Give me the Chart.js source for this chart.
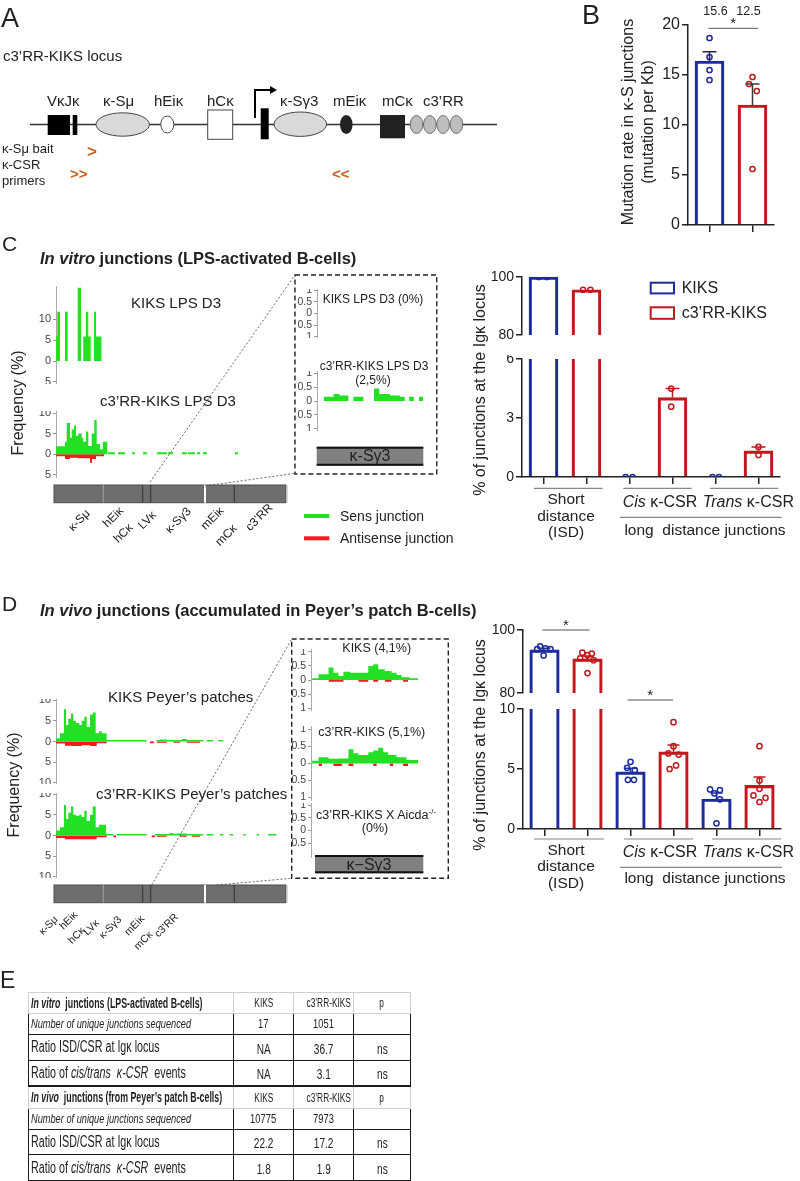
<!DOCTYPE html>
<html>
<head>
<meta charset="utf-8">
<script src="https://cdn.jsdelivr.net/npm/chart.js@4.4.1/dist/chart.umd.min.js"></script>
<style>
html,body{margin:0;padding:0;background:#fff;}
#page{position:relative;width:800px;height:1181px;overflow:hidden;font-family:"Liberation Sans",Arial,Helvetica,sans-serif;color:#222;}
.abs{position:absolute;white-space:nowrap;line-height:1;}
#page canvas{position:absolute;}
#ov{position:absolute;left:0;top:0;pointer-events:none;}
#tbl{position:absolute;left:28px;top:992px;border-collapse:collapse;table-layout:fixed;width:382px;}
#tbl td{padding:0;overflow:hidden;white-space:nowrap;vertical-align:middle;line-height:1;}
#tbl tr.h td{border:1px solid #d0d0d0;}
#tbl tr.r td{border:1.5px solid #1a1a1a;}
#tbl tr.last td{border-bottom:2.5px solid #1a1a1a;}
.sx{display:inline-block;transform-origin:0 50%;}
#tbl td.c{text-align:center;}
#tbl td.c .sx{transform-origin:50% 50%;}
</style>
</head>
<body>
<div id="page"></div>
<script>
// ===================== DATA =====================
// Panel B : mutation rate in kappa-S junctions (mutation per Kb)
const bGenotypes = ['KIKS', "c3'RR-KIKS"];
const bMeans = [16.4, 12.0];
const bSems = [0.93, 2.1];
const bKiksMice = [18.7, 16.8, 15.5, 14.5];
const bC3Mice = [14.8, 14.1, 13.4, 5.6];
const bTopValues = ['15.6', '12.5'];
const bTicks = [0, 5, 10, 15, 20];

// Panels C / D right : % of junctions at the Igk locus
const junctionBars = ['ISD KIKS', "ISD c3'RR-KIKS", 'Cis KIKS', "Cis c3'RR-KIKS", 'Trans KIKS', "Trans c3'RR-KIKS"];
const vitroMeans = [100, 95.6, 0, 4.04, 0, 1.33];
const vitroSems = [0, 0, 0, 0.46, 0, 0.2];
const vitroMice = [[100, 100], [95.6, 95.6], [0, 0], [4.5, 3.58], [0, 0], [1.53, 1.12]];
const vivoMeans = [93.7, 90.8, 4.76, 6.43, 2.5, 3.64];
const vivoSems = [0.5, 0.9, 0.3, 0.56, 0.5, 0.7];
const vivoMice = [[94.8, 94.2, 93.9, 91.9, 93.9], [92.8, 92.5, 92.0, 91.0, 90.4, 86.3], [5.6, 5.1, 4.9, 4.1, 4.1], [8.9, 6.9, 6.3, 6.2, 5.3, 5.0], [3.3, 3.25, 2.97, 2.47, 0.47], [6.9, 4.05, 3.35, 2.8, 2.6, 2.25]];
const upperTicks = [80, 100];
const vitroLowerTicks = [0, 3, 6];
const vivoLowerTicks = [0, 5, 10];

// Junction frequency (%) along the locus : [start, end, frequency]
const vitroKiksSens = [[2,3.3,5.9],[3.3,6,11.8],[11,13.7,11.8],[23.7,27,17.6],[29.3,32,5.9],[32,34.3,11.8],[34.3,36.7,5.9],[40,42,11.8],[42,47.7,5.9]];
const vitroKiksAnti = [];
const vitroC3Sens = [[2,11,1.9],[11,12.7,3],[12.7,16,7.6],[16,17.7,4],[17.7,20,6],[20,22,7],[22,24.3,4.5],[24.3,27.7,5],[27.7,29.3,4],[29.3,32,3],[32,34.3,5.5],[34.3,37.7,2],[37.7,40.3,5],[40.3,42.7,8.3],[42.7,46,2.5],[46,48.7,1.2],[48.7,53.3,3],
  [54,61,0.45],[64,71,0.45],[78,81,0.45],[89,93,0.45],[103,113,0.45],[114,119,0.45],[128,133,0.45],[134,141,0.45],[143,146,0.45],[149,153,0.45],[181,184,0.45]];
const vitroC3Anti = [[2,11,-0.5],[11,16,-1.2],[16,24,-0.9],[24,36,-1.0],[36,38,-2.1],[38,42,-1.2],[42,50,-0.5]];
const vivoKiksSens = [[1,6,0.8],[6,10,2],[10,12,7.8],[12,14.3,4],[14.3,17,5.5],[17,19.3,6.8],[19.3,22,5],[22,25.3,4.5],[25.3,27.7,4],[27.7,30.3,5],[30.3,32.7,6],[32.7,36,3.5],[36,38.7,6.5],[38.7,41.7,7],[41.7,45,2],[45,47.7,2.5],[47.7,52.7,2],
  [52.7,92.7,0.35],[102.7,106,0.35],[106,112.7,0.5],[112.7,127.7,0.35],[127.7,132.7,0.6],[132.7,149.3,0.35],[152.7,159.3,0.35],[164.3,169.3,0.35]];
const vivoKiksAnti = [[1,11,-0.5],[11,17.7,-1.0],[17.7,27.7,-1.1],[27.7,36,-0.9],[36,42.7,-1.1],[42.7,52.7,-0.4],[96,100,-0.4],[102.7,112.7,-0.3],[119.3,126,-0.3],[132.7,146,-0.3]];
const vivoC3Sens = [[1,6,1.2],[6,10,2],[10,12,7.4],[12,14.3,4],[14.3,17,5.5],[17,19.3,7],[19.3,22,5],[22,25.3,4.8],[25.3,27.7,5],[27.7,30.3,4.5],[30.3,32.7,6],[32.7,36,3.5],[36,38.7,5],[38.7,41.7,7],[41.7,45,2],[45,47.7,2.6],[47.7,52,2.6],
  [52,59.3,0.35],[62.7,92.7,0.35],[101,116,0.35],[116,119.3,0.6],[119.3,122.7,0.35],[122.7,132.7,0.5],[132.7,149.3,0.35],[152.7,159.3,0.35],[166,169.3,0.35],[176,179.3,0.35],[189.3,191.7,0.35],[202.7,205,0.35],[214.3,222.7,0.35]];
const vivoC3Anti = [[1,11,-0.6],[11,42.7,-0.9],[42.7,52.7,-0.4],[59.3,62,-0.4],[97.7,101,-0.4],[102.7,112.7,-0.3],[126,132.7,-0.3],[137.7,146,-0.3]];

// k-Sg3 detail (0-100 = k-Sg3 region)
const boxVitroKiksSens = [];
const boxVitroC3Sens = [[6.2,15.6,0.15],[15.6,21.2,0.25],[21.2,29.6,0.2],[34.3,43.7,0.15],[53.8,58.7,0.45],[58.7,68.8,0.25],[68.8,78.1,0.2],[78.1,82.8,0.15],[86.9,91.3,0.15],[96.2,100,0.15]];
const boxVivoKiksSens = [[-3,3,0.06],[3,12.3,0.2],[12.3,16.9,0.44],[16.9,21.5,0.26],[21.5,26.1,0.14],[26.1,32.3,0.29],[32.3,49.2,0.26],[49.2,53.8,0.5],[53.8,58.4,0.56],[58.4,64.6,0.38],[64.6,70.8,0.32],[70.8,75.4,0.26],[75.4,80,0.18],[80,87.7,0.1],[87.7,95.4,0.06]];
const boxVivoKiksAnti = [[12.3,26.1,-0.06],[40,49.2,-0.06],[53.8,58.4,-0.06],[64.6,70.8,-0.06],[81.5,86.2,-0.06]];
const boxVivoC3Sens = [[-3,3,0.08],[3,12.3,0.18],[12.3,21.5,0.14],[21.5,30.8,0.15],[30.8,35.4,0.42],[35.4,40,0.3],[40,49.2,0.25],[49.2,53.8,0.33],[53.8,58.4,0.38],[58.4,63,0.46],[63,67.7,0.33],[67.7,75.4,0.25],[75.4,84.6,0.18],[84.6,95.4,0.1]];
const boxVivoC3Anti = [[3,6.2,-0.07],[16.9,24.6,-0.07],[30.8,35.4,-0.07],[53.8,56.9,-0.07],[69.2,72.3,-0.07],[81.5,86.2,-0.07]];
const boxVivoAicdaSens = [];
const histTicksVitro = [-5, 0, 5, 10];
const histTicksVivo = [-10, -5, 0, 5, 10];
const boxTicks = [-1, -0.5, 0, 0.5, 1];
const boxTicksAicda = [-0.5, 0, 0.5, 1];

const trackLabels = ['κ-Sμ', 'hEiκ', 'hCκ', 'LVκ', 'κ-Sγ3', 'mEiκ', 'mCκ', 'c3’RR'];

// Panel E table
const tblCols = ['KIKS', 'c3’RR-KIKS', 'p'];
const vitroCounts = ['17', '1051', ''];
const vitroIsdCsr = ['NA', '36.7', 'ns'];
const vitroCisTrans = ['NA', '3.1', 'ns'];
const vivoCounts = ['10775', '7973', ''];
const vivoIsdCsr = ['22.2', '17.2', 'ns'];
const vivoCisTrans = ['1.8', '1.9', 'ns'];

// ===================== STYLE / LAYOUT =====================
const GREEN = '#24e024', RED = '#ee1c1c', BLUE = '#1d2c9c', DRED = '#c1181e', ORANGE = '#c8601a';
const pairCols = [BLUE, DRED, BLUE, DRED, BLUE, DRED];
const vitroJit = [[-0.11, 0.08], [-0.08, 0.09], [-0.09, 0.07], [-0.03, -0.03], [-0.07, 0.08], [0, 0]];
const vivoJit = [[-0.1, 0.02, 0.14, -0.02, -0.17], [-0.12, 0.1, 0, -0.17, 0.14, 0], [0, -0.08, 0.1, -0.06, 0.08], [0, 0, -0.12, 0.12, 0.06, -0.09], [-0.15, 0.08, -0.05, 0.08, 0], [0, 0, 0, -0.14, 0.14, 0]];
const bJit = [[0, 0, 0, 0], [0, -0.08, 0.1, 0]];

Chart.defaults.font.family = '"Liberation Sans", Arial, sans-serif';
Chart.defaults.color = '#222';
const page = document.getElementById('page');

function fitY(w) { return s => { s.width = w; s.paddingTop = 0; s.paddingBottom = 0; }; }
function fitX(h) { return s => { s.height = h; s.paddingLeft = 0; s.paddingRight = 0; }; }

function makeChart(area, lay, config) {
  const pt = lay.pt || 0, pr = lay.pr || 0, pb = lay.pb || 0, xH = lay.xH || 0;
  const left = Math.round(area.x0 - lay.yW), top = Math.round(area.y0 - pt);
  const w = Math.round(area.x1 - left + pr), h = Math.round(area.y1 - area.y0 + pt + pb + xH);
  const c = document.createElement('canvas');
  c.width = w; c.height = h;
  c.style.left = left + 'px'; c.style.top = top + 'px';
  c.style.width = w + 'px'; c.style.height = h + 'px';
  page.appendChild(c);
  config.options.layout = { padding: { top: pt, right: pr, bottom: pb, left: 0 } };
  config.options.responsive = false;
  config.options.animation = false;
  config.options.devicePixelRatio = 1;
  config.options.events = [];
  return new Chart(c.getContext('2d'), config);
}

const decoPlugin = {
  id: 'deco',
  afterDatasetsDraw(chart, args, o) {
    const ctx = chart.ctx, xs = chart.scales.xp, ys = chart.scales.y, a = chart.chartArea;
    if (o.means) {
      ctx.save();
      ctx.beginPath(); ctx.rect(a.left, a.top - 4, a.right - a.left, a.bottom - a.top + 4); ctx.clip();
      o.means.forEach((m, i) => {
        const s = o.sems[i]; if (!s) return;
        const x = xs.getPixelForValue(i), y0 = ys.getPixelForValue(m), y1 = ys.getPixelForValue(m + s);
        ctx.strokeStyle = o.errColors[i]; ctx.lineWidth = o.errWidth || 1.5;
        ctx.beginPath(); ctx.moveTo(x, y0); ctx.lineTo(x, y1);
        ctx.moveTo(x - o.cap, y1); ctx.lineTo(x + o.cap, y1); ctx.stroke();
      });
      ctx.restore();
    }
    (o.sig || []).forEach(s => {
      const xa = xs.getPixelForValue(s.x0), xb = xs.getPixelForValue(s.x1), y = ys.getPixelForValue(s.y);
      ctx.save();
      ctx.strokeStyle = '#555'; ctx.lineWidth = 1;
      ctx.beginPath(); ctx.moveTo(xa, y); ctx.lineTo(xb, y); ctx.stroke();
      ctx.fillStyle = '#222'; ctx.font = '15px "Liberation Sans", Arial';
      ctx.textAlign = 'center'; ctx.textBaseline = 'middle';
      ctx.fillText('*', (xa + xb) / 2, y - 4);
      ctx.restore();
    });
  }
};

function barPanel(area, lay, o) {
  const datasets = [{
    type: 'bar', data: o.means, xAxisID: 'x', yAxisID: 'y',
    backgroundColor: 'rgba(0,0,0,0)', borderColor: o.colors, borderWidth: 2.5,
    borderSkipped: 'start', grouped: false, barThickness: o.barW, clip: o.clip, order: 2
  }];
  o.mice.forEach((vals, i) => {
    const pts = vals.map((v, k) => ({ x: i + o.jit[i][k], y: v })).filter(p => p.y >= o.min - 0.3 && p.y <= o.max + 0.3);
    datasets.push({
      type: 'scatter', xAxisID: 'xp', yAxisID: 'y', data: pts, order: 1,
      pointRadius: o.ptR || 2.6, pointBorderWidth: 1.5, pointBorderColor: o.colors[i],
      pointBackgroundColor: 'rgba(255,255,255,0)', pointHoverRadius: 0
    });
  });
  const xH = lay.xH || 0;
  return makeChart(area, lay, {
    type: 'bar',
    data: { labels: o.labels, datasets },
    options: {
      scales: {
        x: {
          type: 'category', display: xH > 0, offset: true,
          ticks: { display: false },
          grid: { display: true, drawOnChartArea: false, drawTicks: true, tickLength: xH - 1, offset: false, color: '#222', lineWidth: 1.5 },
          border: { display: true, color: '#222', width: 1.5 },
          afterFit: fitX(xH)
        },
        xp: { type: 'linear', axis: 'x', position: 'bottom', offset: false, grace: 0, bounds: 'data', min: -0.5, max: o.labels.length - 0.5, display: false, grid: { offset: false } },
        y: {
          type: 'linear', min: o.min, max: o.max,
          afterBuildTicks: s => { s.ticks = o.ticks.map(v => ({ value: v })); },
          ticks: { font: { size: o.tickSize || 14 }, color: '#222', padding: 2, autoSkip: false },
          grid: { drawOnChartArea: false, tickLength: 6, color: '#222', lineWidth: 1.5 },
          border: { display: true, color: '#222', width: 1.5 },
          afterFit: fitY(lay.yW)
        }
      },
      plugins: {
        legend: { display: false }, tooltip: { enabled: false },
        deco: { means: o.means, sems: o.sems, errColors: o.errColors || o.colors, cap: o.cap || 7, sig: o.sig || [] }
      }
    },
    plugins: [decoPlugin]
  });
}

function segPts(segs) {
  const pts = [];
  segs.forEach((s, i) => {
    const [a, b, v] = s, prev = segs[i - 1], next = segs[i + 1];
    if (!prev || prev[1] !== a) pts.push({ x: a, y: 0 });
    pts.push({ x: a, y: v }, { x: b, y: v });
    if (!next || next[0] !== b) pts.push({ x: b, y: 0 });
  });
  return pts;
}

function histPanel(area, yW, xMin, xMax, yMin, yMax, ticks, sens, anti, tickSize) {
  const ds = (segs, col) => ({ data: segPts(segs), fill: 'origin', backgroundColor: col, borderColor: 'rgba(0,0,0,0)', borderWidth: 0, pointRadius: 0, tension: 0 });
  return makeChart(area, { yW }, {
    type: 'line',
    data: { datasets: [ds(sens, GREEN), ds(anti, RED)] },
    options: {
      scales: {
        x: { type: 'linear', min: xMin, max: xMax, display: false, offset: false },
        y: {
          type: 'linear', min: yMin, max: yMax,
          afterBuildTicks: s => { s.ticks = ticks.map(v => ({ value: v })); },
          ticks: { callback: v => String(Math.abs(v)), font: { size: tickSize || 11 }, color: '#444', padding: 2, autoSkip: false },
          grid: { drawOnChartArea: false, tickLength: 3, color: '#999', lineWidth: 1 },
          border: { display: true, color: '#aaa', width: 1 },
          afterFit: fitY(yW)
        }
      },
      plugins: { legend: { display: false }, tooltip: { enabled: false } }
    }
  });
}

// ---------- Panel B ----------
barPanel({ x0: 688, x1: 774, y0: 25, y1: 225 }, { yW: 40, xH: 8, pt: 8, pr: 6 }, {
  labels: bGenotypes, means: bMeans, sems: bSems, mice: [bKiksMice, bC3Mice], jit: bJit,
  colors: [BLUE, DRED], errColors: ['#23235e', '#3a3a3a'], barW: 29, min: 0, max: 20, ticks: bTicks,
  tickSize: 16, clip: 0, cap: 7, sig: [{ x0: -0.03, x1: 1.13, y: 19.67 }]
});

// ---------- Panel C right ----------
barPanel({ x0: 522.3, x1: 779.7, y0: 277.3, y1: 339.3 }, { yW: 45, pt: 6, pr: 6 }, {
  labels: junctionBars, means: vitroMeans, sems: vitroSems, mice: vitroMice, jit: vitroJit,
  colors: pairCols, barW: 29, min: 80, max: 100, ticks: upperTicks,
  clip: { left: 5, right: 5, top: 5, bottom: 0 }, cap: 7
});
barPanel({ x0: 522.3, x1: 779.7, y0: 356.7, y1: 476.7 }, { yW: 45, xH: 8, pr: 6, pt: 2 }, {
  labels: junctionBars, means: vitroMeans, sems: vitroSems, mice: vitroMice, jit: vitroJit,
  colors: pairCols, barW: 29, min: 0, max: 6, ticks: vitroLowerTicks,
  clip: { left: 5, right: 5, top: 0, bottom: 5 }, cap: 7
});

// ---------- Panel D right ----------
barPanel({ x0: 523.3, x1: 781, y0: 630, y1: 696.7 }, { yW: 45, pt: 16, pr: 6 }, {
  labels: junctionBars, means: vivoMeans, sems: vivoSems, mice: vivoMice, jit: vivoJit,
  colors: pairCols, barW: 29.5, min: 80, max: 100, ticks: upperTicks,
  clip: { left: 5, right: 5, top: 5, bottom: 0 }, cap: 6,
  sig: [{ x0: -0.05, x1: 1.05, y: 100 }]
});
barPanel({ x0: 523.3, x1: 781, y0: 709, y1: 829.3 }, { yW: 45, xH: 8, pr: 6, pt: 22 }, {
  labels: junctionBars, means: vivoMeans, sems: vivoSems, mice: vivoMice, jit: vivoJit,
  colors: pairCols, barW: 29.5, min: 0, max: 10, ticks: vivoLowerTicks,
  clip: { left: 5, right: 5, top: 0, bottom: 5 }, cap: 6,
  sig: [{ x0: 1.93, x1: 2.99, y: 10.75 }]
});

// ---------- Histograms ----------
histPanel({ x0: 56, x1: 286, y0: 285.6, y1: 383.6 }, 40, 2, 232, -5.5, 18, histTicksVitro, vitroKiksSens, vitroKiksAnti);
histPanel({ x0: 56, x1: 286, y0: 411.3, y1: 478.1 }, 40, 2, 232, -5.8, 10.5, histTicksVitro, vitroC3Sens, vitroC3Anti);
histPanel({ x0: 56, x1: 286, y0: 698.8, y1: 784.2 }, 40, 2, 232, -10.3, 10.3, histTicksVivo, vivoKiksSens, vivoKiksAnti);
histPanel({ x0: 56, x1: 286, y0: 792.8, y1: 877.8 }, 40, 2, 232, -10.3, 10.3, histTicksVivo, vivoC3Sens, vivoC3Anti);
// k-Sg3 zoom boxes
histPanel({ x0: 316.7, x1: 423.3, y0: 289.0, y1: 338.0 }, 22, 0, 100, -1.05, 1.05, boxTicks, boxVitroKiksSens, [], 10.5);
histPanel({ x0: 316.7, x1: 423.3, y0: 370.8, y1: 431.2 }, 22, 0, 100, -1.08, 1.08, boxTicks, boxVitroC3Sens, [], 10.5);
histPanel({ x0: 310.7, x1: 423.3, y0: 649.2, y1: 710.8 }, 22, -4, 100, -1.1, 1.1, boxTicks, boxVivoKiksSens, boxVivoKiksAnti, 10.5);
histPanel({ x0: 310.7, x1: 423.3, y0: 725.6, y1: 800.4 }, 22, -4, 100, -1.1, 1.1, boxTicks, boxVivoC3Sens, boxVivoC3Anti, 10.5);
histPanel({ x0: 310.7, x1: 423.3, y0: 802.5, y1: 857.5 }, 22, -4, 100, -1.1, 1.1, boxTicksAicda, boxVivoAicdaSens, [], 10.5);

// ---------- SVG overlay (diagram shapes, frames, guide lines) ----------
function track(y) {
  return `<rect x="54" y="${y}" width="232" height="17.7" fill="#6e6e6e" stroke="#4d4d4d" stroke-width="1"/>
  <line x1="103.3" y1="${y}" x2="103.3" y2="${y + 17.7}" stroke="#a0a0a0" stroke-width="1"/>
  <line x1="142.7" y1="${y}" x2="142.7" y2="${y + 17.7}" stroke="#333" stroke-width="1"/>
  <line x1="150.7" y1="${y}" x2="150.7" y2="${y + 17.7}" stroke="#333" stroke-width="1"/>
  <line x1="205" y1="${y}" x2="205" y2="${y + 17.7}" stroke="#fff" stroke-width="2"/>
  <line x1="234.3" y1="${y}" x2="234.3" y2="${y + 17.7}" stroke="#333" stroke-width="1"/>
  <line x1="287" y1="${y}" x2="287" y2="${y + 17.7}" stroke="#ccc" stroke-width="1.5"/>`;
}
function sg3bar(x0, x1, y0, y1) {
  return `<rect x="${x0}" y="${y0}" width="${x1 - x0}" height="${y1 - y0}" fill="#808080"/>
  <line x1="${x0}" y1="${y0 + 1}" x2="${x1}" y2="${y0 + 1}" stroke="#111" stroke-width="2"/>
  <line x1="${x0}" y1="${y1 - 1}" x2="${x1}" y2="${y1 - 1}" stroke="#111" stroke-width="2"/>`;
}
const svg = `<svg id="ov" width="800" height="1181" xmlns="http://www.w3.org/2000/svg">
 <line x1="30" y1="124.5" x2="497" y2="124.5" stroke="#333" stroke-width="1.3"/>
 <rect x="47.7" y="115" width="22.3" height="20" fill="#000"/>
 <rect x="72.7" y="115" width="4.6" height="20" fill="#000"/>
 <ellipse cx="122.7" cy="124.5" rx="26.7" ry="11.7" fill="#d9d9d9" stroke="#444" stroke-width="1"/>
 <ellipse cx="167.3" cy="124.5" rx="6.5" ry="8.5" fill="#fff" stroke="#444" stroke-width="1"/>
 <rect x="207.7" y="110" width="25" height="29.3" fill="#fff" stroke="#444" stroke-width="1"/>
 <path d="M255 118 V90 H271" fill="none" stroke="#000" stroke-width="2"/>
 <path d="M270 86 L277 90 L270 94 Z" fill="#000"/>
 <rect x="260.7" y="108.3" width="8" height="31" fill="#000"/>
 <ellipse cx="300.3" cy="124.2" rx="26.3" ry="12.2" fill="#d9d9d9" stroke="#444" stroke-width="1"/>
 <ellipse cx="346.3" cy="124.5" rx="6.3" ry="9.5" fill="#222"/>
 <rect x="380" y="115" width="25" height="23.3" fill="#222"/>
 <ellipse cx="416.5" cy="124.5" rx="6.3" ry="9" fill="#bdbdbd" stroke="#555" stroke-width="0.8"/>
 <ellipse cx="429.8" cy="124.5" rx="6.3" ry="9" fill="#bdbdbd" stroke="#555" stroke-width="0.8"/>
 <ellipse cx="443.1" cy="124.5" rx="6.3" ry="9" fill="#bdbdbd" stroke="#555" stroke-width="0.8"/>
 <ellipse cx="456.4" cy="124.5" rx="6.3" ry="9" fill="#bdbdbd" stroke="#555" stroke-width="0.8"/>

 ${track(485)}
 ${track(885)}
 <rect x="295" y="275" width="141.7" height="199" fill="none" stroke="#222" stroke-width="1.4" stroke-dasharray="5 3"/>
 <rect x="291.7" y="639" width="156.6" height="239.3" fill="none" stroke="#222" stroke-width="1.4" stroke-dasharray="5 3"/>
 ${sg3bar(316.7, 423.3, 446.7, 465.7)}
 ${sg3bar(315, 423.3, 855, 873.3)}
 <line x1="150" y1="482" x2="295" y2="275" stroke="#555" stroke-width="0.9" stroke-dasharray="2 2"/>
 <line x1="205" y1="486" x2="295" y2="473.3" stroke="#555" stroke-width="0.9" stroke-dasharray="2 2"/>
 <line x1="151.7" y1="885" x2="291.7" y2="639" stroke="#555" stroke-width="0.9" stroke-dasharray="2 2"/>
 <line x1="216.7" y1="885" x2="291.7" y2="878.3" stroke="#555" stroke-width="0.9" stroke-dasharray="2 2"/>

 <line x1="304" y1="516" x2="329.3" y2="516" stroke="${GREEN}" stroke-width="4"/>
 <line x1="304" y1="538.3" x2="329.3" y2="538.3" stroke="${RED}" stroke-width="4"/>
 <rect x="650.7" y="282.7" width="23.3" height="10.7" fill="none" stroke="${BLUE}" stroke-width="2"/>
 <rect x="650.7" y="307.3" width="23.3" height="11.5" fill="none" stroke="${DRED}" stroke-width="2"/>

 <line x1="534" y1="488.3" x2="602.7" y2="488.3" stroke="#888" stroke-width="1.2"/>
 <line x1="623.3" y1="488.3" x2="691.7" y2="488.3" stroke="#888" stroke-width="1.2"/>
 <line x1="710" y1="488.3" x2="778.3" y2="488.3" stroke="#888" stroke-width="1.2"/>
 <line x1="620" y1="517.3" x2="781.7" y2="517.3" stroke="#888" stroke-width="1.2"/>
 <line x1="534" y1="839" x2="604" y2="839" stroke="#888" stroke-width="1.2"/>
 <line x1="624" y1="839" x2="693" y2="839" stroke="#888" stroke-width="1.2"/>
 <line x1="712" y1="839" x2="781" y2="839" stroke="#888" stroke-width="1.2"/>
 <line x1="620" y1="867.3" x2="782" y2="867.3" stroke="#888" stroke-width="1.2"/>
</svg>`;
page.insertAdjacentHTML('beforeend', svg);

// ---------- Texts ----------
function T(html, x, y, o = {}) {
  const d = document.createElement('div');
  d.className = 'abs';
  d.innerHTML = html;
  d.style.fontSize = (o.size || 14) + 'px';
  if (o.weight) d.style.fontWeight = o.weight;
  if (o.italic) d.style.fontStyle = 'italic';
  if (o.color) d.style.color = o.color;
  if (o.family) d.style.fontFamily = o.family;
  const tx = o.anchor === 'middle' ? '-50%' : o.anchor === 'end' ? '-100%' : '0';
  d.style.left = x + 'px'; d.style.top = y + 'px';
  d.style.transform = `translate(${tx},-50%)` + (o.rot ? ` rotate(${o.rot}deg)` : '');
  page.appendChild(d);
}
// A
T('A', 1, 18, { size: 27 });
T('c3’RR-KIKS locus', 3, 55, { size: 15 });
[['VκJκ', 47], ['κ-Sμ', 103], ['hEiκ', 154], ['hCκ', 207], ['κ-Sγ3', 280], ['mEiκ', 333], ['mCκ', 382], ['c3’RR', 423]]
  .forEach(([t, x]) => T(t, x, 100, { size: 15 }));
T('κ-Sμ bait', 2, 148, { size: 13 });
T('&gt;', 87, 151, { size: 17, color: ORANGE, weight: 'bold' });
T('κ-CSR', 2, 164, { size: 13 });
T('primers', 2, 180, { size: 13 });
T('&gt;&gt;', 70, 173, { size: 15, color: ORANGE, weight: 'bold' });
T('&lt;&lt;', 332, 173, { size: 15, color: ORANGE, weight: 'bold' });
// B
T('B', 582, 15, { size: 27 });
T(bTopValues[0], 715.5, 11, { size: 12.5, anchor: 'middle' });
T(bTopValues[1], 748.5, 11, { size: 12.5, anchor: 'middle' });
T('Mutation rate in κ-S junctions', 628, 122, { size: 16, anchor: 'middle', rot: -90 });
T('(mutation per Kb)', 648, 122, { size: 16, anchor: 'middle', rot: -90 });
// C
T('C', 2, 243, { size: 21 });
T('<i>In vitro</i> junctions (LPS-activated B-cells)', 40, 258, { size: 16.5, weight: 'bold' });
T('KIKS LPS D3', 176, 302, { size: 15, anchor: 'middle' });
T('c3’RR-KIKS LPS D3', 168, 400, { size: 15, anchor: 'middle' });
T('Frequency (%)', 18, 403, { size: 16, anchor: 'middle', rot: -90 });
T('KIKS LPS D3 (0%)', 373, 299, { size: 12, anchor: 'middle' });
T('c3’RR-KIKS LPS D3', 374, 366, { size: 12, anchor: 'middle' });
T('(2,5%)', 373, 380, { size: 12, anchor: 'middle' });
T('κ-Sγ3', 370, 456, { size: 16, anchor: 'middle' });
const cTrackPos = [[79, 520], [113.3, 516.7], [122.5, 533], [146.7, 520], [178, 520], [211.7, 518], [225.8, 535], [259, 516.7]];
trackLabels.forEach((t, i) => T(t, cTrackPos[i][0], cTrackPos[i][1], { size: 12, anchor: 'middle', rot: -45 }));
T('Sens junction', 340, 516, { size: 14 });
T('Antisense junction', 340, 538, { size: 14 });
T('% of junctions at the Igκ locus', 480, 390, { size: 16, anchor: 'middle', rot: -90 });
T('KIKS', 681.7, 288.3, { size: 16 });
T('c3’RR-KIKS', 681.7, 313.3, { size: 16 });
function xLabels(y0, yLong) {
  T('Short', 566, y0, { size: 15.5, anchor: 'middle' });
  T('distance', 566, y0 + 16.3, { size: 15.5, anchor: 'middle' });
  T('(ISD)', 566, y0 + 32.5, { size: 15.5, anchor: 'middle' });
  T('<i>Cis</i> κ-CSR', 660, y0 + 2.4, { size: 16, anchor: 'middle' });
  T('<i>Trans</i> κ-CSR', 748.3, y0 + 2.4, { size: 16, anchor: 'middle' });
  T('long&nbsp; distance junctions', 705, yLong, { size: 15.5, anchor: 'middle' });
}
xLabels(499.3, 529.5);
// D
T('D', 2, 603, { size: 21 });
T('<i>In vivo</i> junctions (accumulated in Peyer’s patch B-cells)', 40, 610, { size: 16.5, weight: 'bold' });
T('KIKS Peyer’s patches', 180.7, 696, { size: 15, anchor: 'middle' });
T('c3’RR-KIKS Peyer’s patches', 191.7, 793.3, { size: 15, anchor: 'middle' });
T('Frequency (%)', 14, 785, { size: 16, anchor: 'middle', rot: -90 });
T('KIKS (4,1%)', 376.7, 648.3, { size: 12.5, anchor: 'middle' });
T('c3’RR-KIKS (5,1%)', 371.7, 731.7, { size: 12.5, anchor: 'middle' });
T('c3’RR-KIKS X Aicda<sup style="font-size:8px">-/-</sup>', 376, 815, { size: 12.5, anchor: 'middle' });
T('(0%)', 375, 828.3, { size: 12.5, anchor: 'middle' });
T('κ−Sγ3', 369, 864.5, { size: 16, anchor: 'middle' });
const dTrackPos = [[47.5, 925], [68, 920], [76, 935], [91, 927], [110, 927], [134, 925], [143, 940], [166, 925]];
trackLabels.forEach((t, i) => T(t, dTrackPos[i][0], dTrackPos[i][1], { size: 10.5, anchor: 'middle', rot: -45 }));
T('% of junctions at the Igκ locus', 480, 745, { size: 16, anchor: 'middle', rot: -90 });
xLabels(850, 878.3);
// E
T('E', 0, 980, { size: 23 });

// ---------- Table ----------
const sx = (html, k) => `<span class="sx" style="transform:scaleX(${k})">${html}</span>`;
function row(cls, h, first, vals, o) {
  return `<tr class="${cls}" style="height:${h}px"><td style="padding-left:2px;font-size:${o.fs0}px;${o.st0 || ''}">${sx(first, o.k0)}</td>` +
    vals.map(v => `<td class="c" style="font-size:${o.fs}px;${o.st || ''}">${sx(v, o.k)}</td>`).join('') + '</tr>';
}
const hdr = { fs0: 14, k0: 0.63, st0: 'font-weight:bold', fs: 13, k: 0.64 };
const cnt = { fs0: 13, k0: 0.71, st0: 'font-style:italic', fs: 13, k: 0.72 };
const big = { fs0: 16, k0: 0.67, fs: 14, k: 0.72, st: 'padding-top:3px' };
const tbl = `<table id="tbl"><colgroup><col style="width:205px"><col style="width:60px"><col style="width:59.6px"><col style="width:57.7px"></colgroup>
${row('h', 20.6, '<i>In vitro</i>&nbsp; junctions (LPS-activated B-cells)', tblCols, hdr)}
${row('r', 21.4, 'Number of unique junctions sequenced', vitroCounts, cnt)}
${row('r', 25.6, 'Ratio ISD/CSR at Igκ locus', vitroIsdCsr, big)}
${row('r last', 26, 'Ratio of <i>cis/trans&nbsp; κ-CSR</i>&nbsp; events', vitroCisTrans, big)}
${row('h', 22, '<i>In vivo</i>&nbsp; junctions (from Peyer’s patch B-cells)', tblCols, hdr)}
${row('r', 21, 'Number of unique junctions sequenced', vivoCounts, cnt)}
${row('r', 25.7, 'Ratio ISD/CSR at Igκ locus', vivoIsdCsr, big)}
${row('r', 26, 'Ratio of <i>cis/trans&nbsp; κ-CSR</i>&nbsp; events', vivoCisTrans, big)}
</table>`;
page.insertAdjacentHTML('beforeend', tbl);
</script>
</body>
</html>
